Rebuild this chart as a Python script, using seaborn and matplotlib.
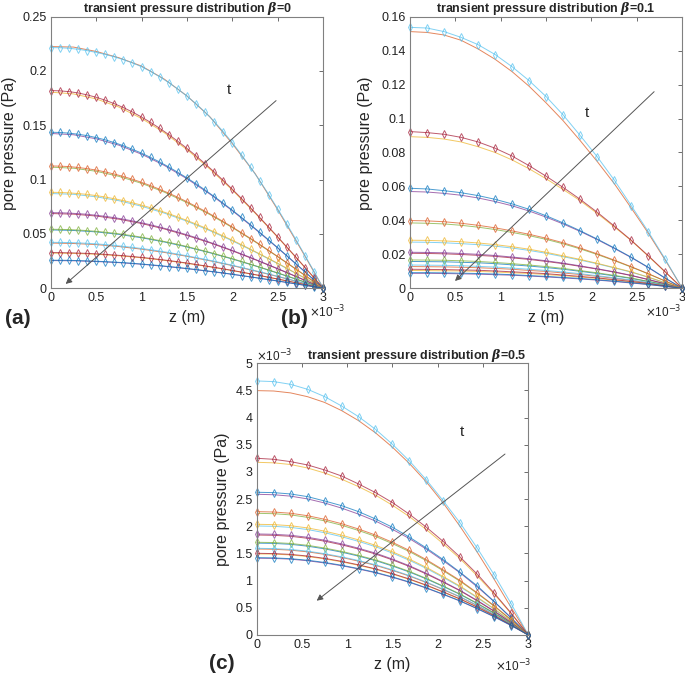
import numpy as np
import matplotlib.pyplot as plt
import seaborn as sns

# z positions of the samples (mm)
z_a_mk = [0.0, 0.1, 0.2, 0.3, 0.4, 0.5, 0.6, 0.7, 0.8, 0.9, 1.0, 1.1, 1.2, 1.3, 1.4, 1.5,
          1.6, 1.7, 1.8, 1.9, 2.0, 2.1, 2.2, 2.3, 2.4, 2.5, 2.6, 2.7, 2.8, 2.9, 3.0]
z_a_ln = [0.0, 0.25, 0.5, 0.75, 1.0, 1.25, 1.5, 1.75, 2.0, 2.25, 2.5, 2.75, 3.0]
z_bc = [0.0, 0.1875, 0.375, 0.5625, 0.75, 0.9375, 1.125, 1.3125, 1.5, 1.6875, 1.875,
        2.0625, 2.25, 2.4375, 2.625, 2.8125, 3.0]

# panel (a), beta=0 : numerical (diamonds) and analytic (plain line), Pa
a_num = [
    [.2215, .2214, .2209, .2200, .2187, .2171, .2152, .2130, .2104, .2074, .2039, .1995, .1946, .1892, .1833, .1768,
     .1698, .1620, .1534, .1440, .1338, .1228, .1112, .0990, .0862, .0728, .0589, .0446, .0300, .0152, 0],
    [.1820, .1817, .1810, .1798, .1780, .1758, .1731, .1699, .1663, .1622, .1576, .1526, .1472, .1414, .1352, .1287,
     .1218, .1145, .1070, .0991, .0910, .0826, .0740, .0652, .0562, .0471, .0378, .0285, .0190, .0095, 0],
    [.1436, .1434, .1428, .1418, .1405, .1387, .1366, .1341, .1312, .1279, .1244, .1204, .1162, .1116, .1067, .1015,
     .0961, .0904, .0844, .0782, .0718, .0652, .0584, .0515, .0444, .0372, .0299, .0225, .0150, .0075, 0],
    [.1126, .1124, .1120, .1112, .1101, .1088, .1071, .1051, .1029, .1003, .0975, .0944, .0911, .0875, .0837, .0796,
     .0753, .0709, .0662, .0613, .0563, .0511, .0458, .0404, .0348, .0291, .0234, .0176, .0118, .0059, 0],
    [.0883, .0882, .0878, .0872, .0864, .0853, .0840, .0824, .0807, .0787, .0765, .0741, .0714, .0686, .0656, .0624,
     .0591, .0556, .0519, .0481, .0442, .0401, .0359, .0316, .0273, .0229, .0184, .0138, .0092, .0046, 0],
    [.0696, .0695, .0692, .0687, .0681, .0672, .0662, .0650, .0636, .0620, .0603, .0584, .0563, .0541, .0517, .0492,
     .0466, .0438, .0409, .0379, .0348, .0316, .0283, .0249, .0215, .0180, .0145, .0109, .0073, .0036, 0],
    [.0543, .0542, .0540, .0536, .0531, .0524, .0516, .0507, .0496, .0484, .0470, .0455, .0439, .0422, .0404, .0384,
     .0363, .0342, .0319, .0296, .0272, .0247, .0221, .0195, .0168, .0141, .0113, .0085, .0057, .0028, 0],
    [.0423, .0422, .0421, .0418, .0414, .0409, .0402, .0395, .0386, .0377, .0366, .0355, .0342, .0329, .0314, .0299,
     .0283, .0266, .0249, .0230, .0212, .0192, .0172, .0152, .0131, .0109, .0088, .0066, .0044, .0022, 0],
    [.0328, .0328, .0326, .0324, .0321, .0317, .0312, .0306, .0300, .0292, .0284, .0275, .0265, .0255, .0244, .0232,
     .0219, .0206, .0193, .0179, .0164, .0149, .0133, .0118, .0101, .0085, .0068, .0051, .0034, .0017, 0],
    [.0258, .0258, .0257, .0255, .0252, .0249, .0245, .0241, .0236, .0230, .0223, .0216, .0209, .0200, .0192, .0182,
     .0173, .0162, .0152, .0141, .0129, .0117, .0105, .0092, .0080, .0067, .0054, .0040, .0027, .0013, 0],
]
a_ana = [
    [.2225, .2220, .2180, .2122, .2045, .1925, .1770, .1580, .1330, .1055, .0720, .0365, 0],
    [.1805, .1789, .1743, .1668, .1563, .1432, .1276, .1099, .0903, .0691, .0467, .0236, 0],
    [.1425, .1413, .1376, .1317, .1234, .1131, .1008, .0868, .0713, .0545, .0369, .0186, 0],
    [.1115, .1105, .1077, .1030, .0966, .0885, .0788, .0679, .0558, .0427, .0289, .0146, 0],
    [.0872, .0865, .0842, .0806, .0755, .0692, .0617, .0531, .0436, .0334, .0226, .0114, 0],
    [.0688, .0682, .0665, .0636, .0596, .0546, .0486, .0419, .0344, .0263, .0178, .0090, 0],
    [.0537, .0532, .0519, .0496, .0465, .0426, .0380, .0327, .0269, .0206, .0139, .0070, 0],
    [.0416, .0412, .0402, .0384, .0360, .0330, .0294, .0253, .0208, .0159, .0108, .0054, 0],
    [.0324, .0321, .0313, .0299, .0281, .0257, .0229, .0197, .0162, .0124, .0084, .0042, 0],
    [.0255, .0253, .0246, .0236, .0221, .0202, .0180, .0155, .0128, .0098, .0066, .0033, 0],
]

# panel (b), beta=0.1, Pa
b_num = [
    [.1537, .1533, .1512, .1478, .1435, .1377, .1305, .1223, .1129, .1021, .0900, .0775, .0638, .0487, .0334, .0171, 0],
    [.0923, .0917, .0907, .0889, .0862, .0825, .0779, .0722, .0660, .0594, .0524, .0448, .0367, .0283, .0192, .0097, 0],
    [.0589, .0585, .0575, .0563, .0546, .0524, .0497, .0465, .0427, .0385, .0339, .0290, .0238, .0183, .0124, .0060, 0],
    [.0399, .0397, .0392, .0383, .0371, .0356, .0338, .0318, .0295, .0268, .0237, .0203, .0166, .0127, .0086, .0043, 0],
    [.0283, .0282, .0279, .0274, .0267, .0257, .0245, .0230, .0212, .0191, .0170, .0147, .0122, .0097, .0066, .0032, 0],
    [.0212, .0211, .0209, .0205, .0200, .0193, .0184, .0174, .0162, .0148, .0132, .0115, .0097, .0076, .0052, .0026, 0],
    [.0167, .0166, .0165, .0162, .0158, .0152, .0145, .0137, .0128, .0117, .0104, .0091, .0076, .0060, .0041, .0021, 0],
    [.0137, .0136, .0135, .0133, .0129, .0125, .0119, .0112, .0105, .0096, .0086, .0074, .0062, .0049, .0034, .0017, 0],
    [.0112, .0111, .0110, .0108, .0106, .0102, .0097, .0092, .0086, .0078, .0070, .0061, .0051, .0040, .0028, .0014, 0],
    [.0092, .0092, .0091, .0089, .0087, .0084, .0080, .0075, .0070, .0064, .0058, .0050, .0042, .0033, .0023, .0011, 0],
]
b_ana = [
    [.1512, .1507, .1492, .1461, .1410, .1349, .1276, .1190, .1092, .0987, .0870, .0747, .0617, .0473, .0325, .0166, 0],
    [.0893, .0889, .0879, .0862, .0834, .0800, .0756, .0704, .0645, .0582, .0516, .0441, .0362, .0281, .0189, .0095, 0],
    [.0570, .0567, .0559, .0548, .0532, .0511, .0486, .0455, .0419, .0379, .0335, .0287, .0235, .0181, .0122, .0059, 0],
    [.0385, .0383, .0379, .0371, .0360, .0346, .0329, .0310, .0288, .0262, .0232, .0199, .0163, .0125, .0085, .0042, 0],
    [.0272, .0271, .0268, .0263, .0257, .0248, .0237, .0223, .0206, .0186, .0166, .0144, .0120, .0095, .0065, .0032, 0],
    [.0206, .0205, .0203, .0199, .0194, .0188, .0179, .0170, .0158, .0145, .0129, .0113, .0095, .0075, .0051, .0026, 0],
    [.0158, .0157, .0156, .0153, .0150, .0145, .0138, .0131, .0122, .0112, .0100, .0087, .0073, .0058, .0040, .0020, 0],
    [.0128, .0127, .0126, .0124, .0121, .0117, .0112, .0105, .0099, .0090, .0081, .0070, .0059, .0046, .0032, .0016, 0],
    [.0105, .0104, .0103, .0102, .0099, .0096, .0091, .0087, .0081, .0074, .0066, .0058, .0048, .0038, .0026, .0013, 0],
    [.0088, .0088, .0087, .0085, .0083, .0080, .0077, .0072, .0067, .0061, .0055, .0048, .0040, .0031, .0022, .0011, 0],
]

# panel (c), beta=0.5, in units of 1e-3 Pa
c_num = [
    [4.675, 4.663, 4.613, 4.521, 4.387, 4.215, 4.018, 3.785, 3.509, 3.202, 2.853, 2.466, 2.055, 1.595, 1.104, .571, 0],
    [3.252, 3.233, 3.190, 3.129, 3.037, 2.926, 2.779, 2.620, 2.436, 2.221, 1.982, 1.718, 1.429, 1.117, .767, .399, 0],
    [2.626, 2.620, 2.595, 2.546, 2.466, 2.380, 2.270, 2.135, 1.982, 1.800, 1.600, 1.385, 1.150, .902, .613, .307, 0],
    [2.270, 2.263, 2.240, 2.195, 2.129, 2.048, 1.950, 1.839, 1.705, 1.555, 1.385, 1.196, .999, .774, .536, .277, 0],
    [2.037, 2.031, 2.011, 1.970, 1.911, 1.837, 1.750, 1.650, 1.530, 1.395, 1.243, 1.073, .896, .695, .481, .249, 0],
    [1.859, 1.853, 1.835, 1.798, 1.744, 1.677, 1.597, 1.506, 1.396, 1.273, 1.134, .980, .818, .634, .439, .227, 0],
    [1.706, 1.701, 1.684, 1.650, 1.600, 1.539, 1.465, 1.382, 1.281, 1.169, 1.041, .899, .751, .582, .403, .208, 0],
    [1.595, 1.590, 1.574, 1.542, 1.496, 1.439, 1.370, 1.292, 1.198, 1.093, .973, .841, .702, .544, .376, .195, 0],
    [1.503, 1.498, 1.483, 1.453, 1.410, 1.356, 1.291, 1.217, 1.129, 1.030, .917, .792, .661, .513, .355, .183, 0],
    [1.423, 1.419, 1.404, 1.376, 1.335, 1.284, 1.222, 1.153, 1.069, .975, .868, .750, .626, .485, .336, .174, 0],
]
c_ana = [
    [4.497, 4.490, 4.455, 4.385, 4.280, 4.130, 3.945, 3.720, 3.455, 3.155, 2.815, 2.425, 1.990, 1.520, 1.020, .500, 0],
    [3.178, 3.168, 3.137, 3.073, 2.981, 2.867, 2.730, 2.574, 2.387, 2.177, 1.939, 1.675, 1.398, 1.084, .750, .388, 0],
    [2.589, 2.581, 2.555, 2.504, 2.429, 2.335, 2.224, 2.097, 1.944, 1.773, 1.579, 1.364, 1.139, .883, .611, .316, 0],
    [2.239, 2.232, 2.210, 2.165, 2.100, 2.020, 1.923, 1.814, 1.681, 1.534, 1.366, 1.180, .985, .763, .528, .273, 0],
    [2.006, 2.000, 1.980, 1.940, 1.882, 1.809, 1.723, 1.625, 1.507, 1.374, 1.224, 1.057, .883, .684, .473, .245, 0],
    [1.840, 1.834, 1.816, 1.779, 1.726, 1.660, 1.581, 1.490, 1.382, 1.260, 1.122, .970, .810, .627, .434, .224, 0],
    [1.690, 1.685, 1.668, 1.634, 1.585, 1.524, 1.452, 1.369, 1.269, 1.158, 1.031, .891, .744, .576, .399, .206, 0],
    [1.582, 1.577, 1.561, 1.530, 1.484, 1.427, 1.359, 1.281, 1.188, 1.084, .965, .834, .696, .539, .373, .193, 0],
    [1.492, 1.488, 1.473, 1.443, 1.400, 1.346, 1.282, 1.209, 1.120, 1.022, .910, .786, .656, .509, .352, .182, 0],
    [1.413, 1.409, 1.395, 1.366, 1.325, 1.275, 1.214, 1.145, 1.061, .968, .862, .745, .622, .482, .333, .172, 0],
]

# matlab default colour order
mat = {'b': '#0072BD', 'o': '#D95319', 'y': '#EDB120', 'p': '#7E2F8E',
       'g': '#77AC30', 'lb': '#4DBEEE', 'dr': '#A2142F'}
num_cols = ['lb', 'dr', 'b', 'o', 'y', 'p', 'g', 'lb', 'dr', 'b']
ana_cols = ['o', 'y', 'p', 'g', 'lb', 'dr', 'b', 'o', 'y', 'p']

sns.set_theme(style='white')
plt.rcParams['font.family'] = ['Liberation Sans', 'DejaVu Sans']
plt.rcParams['mathtext.fontset'] = 'custom'
plt.rcParams['mathtext.it'] = 'DejaVu Serif:italic:bold'

fig = plt.figure(figsize=(6.85, 6.74), dpi=100)


def draw_panel(ax, z_ln, ana, z_mk, num, scale):
    for vals, c in zip(ana, ana_cols):
        sns.lineplot(x=np.array(z_ln) * 1e-3, y=np.array(vals) * scale, color=mat[c],
                     lw=0.7, alpha=0.7, ax=ax)
    for vals, c in zip(num, num_cols):
        sns.lineplot(x=np.array(z_mk) * 1e-3, y=np.array(vals) * scale, color=mat[c],
                     lw=0.7, alpha=0.7, marker='d', markersize=4, markerfacecolor='none',
                     markeredgecolor=mat[c], markeredgewidth=0.7, clip_on=False, ax=ax)


def style_axes(ax, yticks, ylabels, title, xoff, ylab_xy, title_x=0.5):
    ax.set_xlim(0, 3e-3)
    ax.set_ylim(yticks[0], yticks[-1])
    xt = [0, .5e-3, 1e-3, 1.5e-3, 2e-3, 2.5e-3, 3e-3]
    ax.set_xticks(xt, labels=['0', '0.5', '1', '1.5', '2', '2.5', '3'])
    ax.set_yticks(yticks, labels=ylabels)
    ax.tick_params(direction='in', top=True, right=True, length=3, width=0.6,
                   color='#555555', labelsize=9, pad=3, labelcolor='#222222')
    for s in ax.spines.values():
        s.set_color('#808080')
        s.set_linewidth(0.8)
    ax.set_xlabel('z (m)', fontsize=11.5, labelpad=4)
    ax.set_ylabel('pore pressure (Pa)', fontsize=11.5)
    ax.yaxis.set_label_coords(*ylab_xy)
    ax.set_title(title, fontsize=9, fontweight='bold', pad=3, x=title_x)
    ax.text(xoff[0], xoff[1], r'$\times$10$^{-3}$', transform=ax.transAxes,
            ha='center', va='top', fontsize=8.5)


def arrow(ax, start, end, tpos):
    ax.annotate('', xy=end, xytext=start,
                arrowprops=dict(arrowstyle='-|>', color='#555555', lw=0.7,
                                mutation_scale=9, shrinkA=0, shrinkB=0))
    ax.text(tpos[0], tpos[1], 't', ha='center', va='center', fontsize=11)


# (a)
ax_a = fig.add_axes([0.074, 0.5723, 0.398, 0.403])
draw_panel(ax_a, z_a_ln, a_ana, z_a_mk, a_num, 1.0)
style_axes(ax_a, [0, .05, .1, .15, .2, .25], ['0', '0.05', '0.1', '0.15', '0.2', '0.25'],
           r'transient pressure distribution $\beta$=0', (1.015, -0.058), (-0.122, 0.535))
arrow(ax_a, (2.48e-3, 0.1727), (0.165e-3, 0.004), (1.96e-3, 0.1825))

# (b)
ax_b = fig.add_axes([0.5985, 0.5723, 0.3975, 0.403])
draw_panel(ax_b, z_bc, b_ana, z_bc, b_num, 1.0)
style_axes(ax_b, [0, .02, .04, .06, .08, .1, .12, .14, .16],
           ['0', '0.02', '0.04', '0.06', '0.08', '0.1', '0.12', '0.14', '0.16'],
           r'transient pressure distribution $\beta$=0.1', (0.93, -0.058), (-0.136, 0.535))
arrow(ax_b, (2.69e-3, 0.1158), (0.496e-3, 0.0043), (1.946e-3, 0.103))

# (c)
ax_c = fig.add_axes([0.3747, 0.0579, 0.3965, 0.4031])
draw_panel(ax_c, z_bc, c_ana, z_bc, c_num, 1e-3)
style_axes(ax_c, [0, .5e-3, 1e-3, 1.5e-3, 2e-3, 2.5e-3, 3e-3, 3.5e-3, 4e-3, 4.5e-3, 5e-3],
           ['0', '0.5', '1', '1.5', '2', '2.5', '3', '3.5', '4', '4.5', '5'],
           r'transient pressure distribution $\beta$=0.5', (0.945, -0.085), (-0.098, 0.5),
           title_x=0.59)
ax_c.text(0.064, 0.995, r'$\times$10$^{-3}$', transform=ax_c.transAxes,
          ha='center', va='bottom', fontsize=8.5)
arrow(ax_c, (2.743e-3, 3.33e-3), (0.663e-3, 0.631e-3), (2.268e-3, 3.74e-3))

fig.text(0.007, 0.528, '(a)', fontsize=15, fontweight='bold', va='center')
fig.text(0.41, 0.528, '(b)', fontsize=15, fontweight='bold', va='center')
fig.text(0.305, 0.016, '(c)', fontsize=15, fontweight='bold', va='center')

fig.savefig('out.png', dpi=100)
